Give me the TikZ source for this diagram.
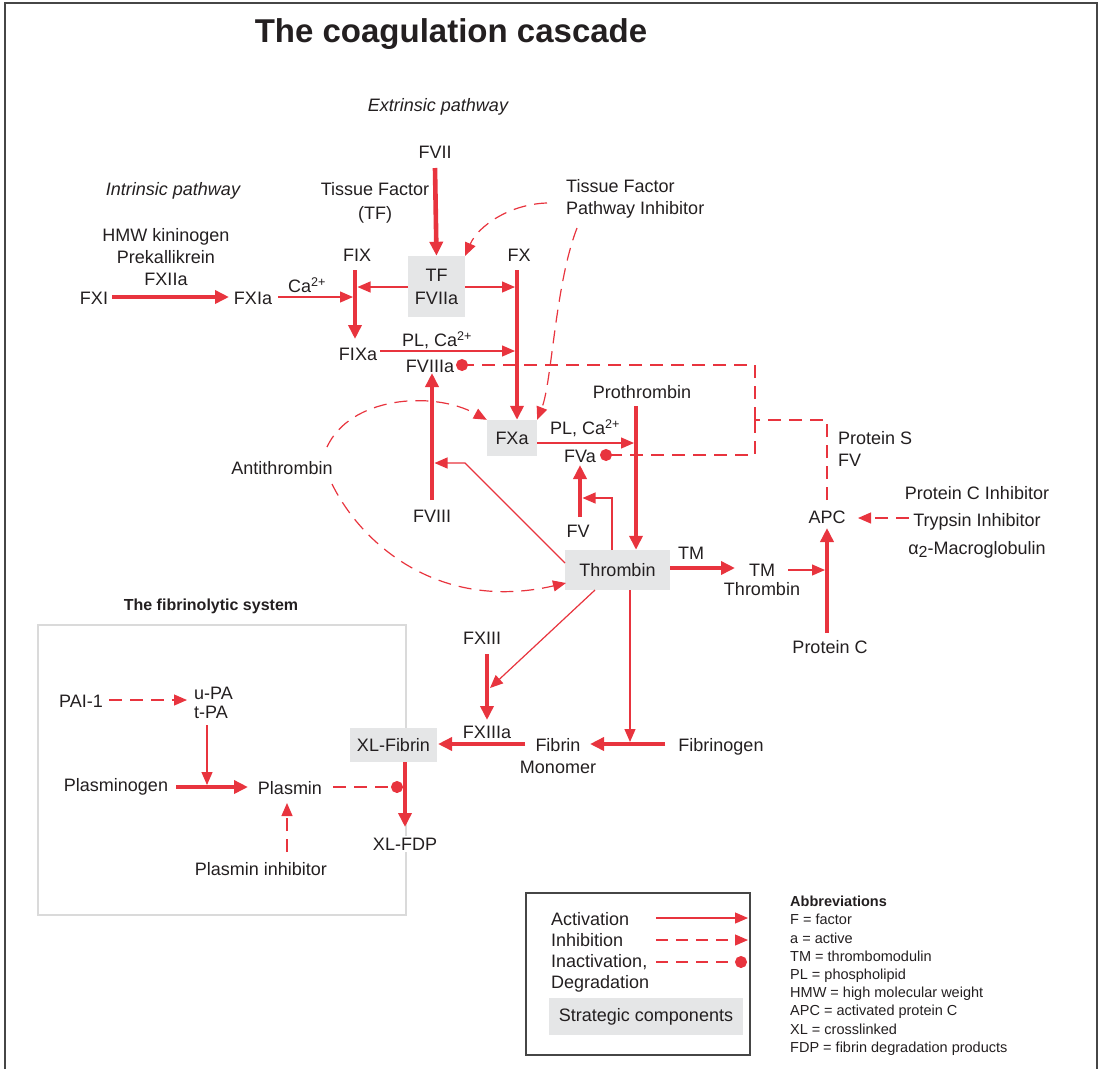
\documentclass[tikz,border=0pt]{standalone}
\usepackage{fontspec}
\setmainfont{Liberation Sans}
\usetikzlibrary{arrows.meta}
\definecolor{cred}{RGB}{232,52,62}
\definecolor{ctxt}{RGB}{35,31,32}
\definecolor{cbox}{RGB}{229,230,231}
\definecolor{cframe}{RGB}{70,70,70}
\definecolor{clight}{RGB}{218,218,218}
\begin{document}
\begin{tikzpicture}[x=1pt,y=-1pt,
 lbl/.style={text=ctxt,font=\fontsize{18}{22}\selectfont,inner sep=0pt,align=center},
 sbox/.style={fill=cbox,text=ctxt,font=\fontsize{18}{23}\selectfont,inner sep=0pt,align=center},
 thk/.style={draw=cred,line width=4.6pt,-{Triangle[length=14pt,width=13pt]}},
 thn/.style={draw=cred,line width=1.2pt,-{Triangle[length=13pt,width=11pt]}},
 thnl/.style={draw=cred,line width=1.2pt},
 dsh/.style={draw=cred,line width=1.2pt,dash pattern=on 13pt off 8pt},
 dsha/.style={dsh,-{Triangle[length=13pt,width=11pt]}},
 dshd/.style={dsh,-{Circle[length=12pt]}},
 small/.style={text=ctxt,font=\fontsize{14.5}{18.2}\selectfont,inner sep=0pt,align=left}
]
\useasboundingbox (0,0) rectangle (1100,1069);
% frame
\draw[cframe,line width=1.5pt] (5,1069) -- (5,3) -- (1097,3) -- (1097,1069);
% fibrinolytic system frame (drawn first, covered by boxes)
\draw[clight,line width=1.5pt] (38,625) rectangle (406,915);

% title and headings
\node[text=ctxt,font=\fontsize{33}{36}\selectfont\bfseries,inner sep=0pt] (title) at (451,34) {The coagulation cascade};
\node[lbl,font=\fontsize{18}{22}\selectfont\itshape] (extr) at (438,107) {Extrinsic pathway};
\node[lbl,font=\fontsize{18}{22}\selectfont\itshape] (intr) at (173,191) {Intrinsic pathway};

% labels
\node[lbl] (fvii) at (435,152) {FVII};
\node[lbl,font=\fontsize{18}{24}\selectfont] (tf) at (375,203) {Tissue Factor\\(TF)};
\node[lbl,align=left,anchor=west] (tfpi) at (566,199) {Tissue Factor\\Pathway Inhibitor};
\node[lbl] (hmw) at (166,257) {HMW kininogen\\Prekallikrein\\FXIIa};
\node[lbl] (fxi) at (94,298) {FXI};
\node[lbl] (fxia) at (253,298) {FXIa};
\node[lbl] (ca1) at (307,285) {Ca\textsuperscript{2+}};
\node[lbl] (fix) at (357,255) {FIX};
\node[lbl] (fixa) at (358,354) {FIXa};
\node[sbox,minimum width=57pt,minimum height=61pt] (tfbox) at (436.5,286.5) {TF\\FVIIa};
\node[lbl] (fx) at (519,255) {FX};
\node[lbl] (plca1) at (437,340) {PL, Ca\textsuperscript{2+}};
\node[lbl] (fviiia) at (430,366) {FVIIIa};
\node[sbox,minimum width=50pt,minimum height=36pt] (fxabox) at (512,438) {FXa};
\node[lbl] (plca2) at (585,428) {PL, Ca\textsuperscript{2+}};
\node[lbl] (fva) at (580,456) {FVa};
\node[lbl] (prothr) at (642,392) {Prothrombin};
\node[lbl] (fv) at (578,531) {FV};
\node[lbl] (fviii) at (432,516) {FVIII};
\node[lbl] (antithr) at (282,468) {Antithrombin};
\node[sbox,minimum width=105pt,minimum height=40pt] (thromb) at (617.5,570) {Thrombin};
\node[lbl] (tm) at (691,553) {TM};
\node[lbl,font=\fontsize{18}{19}\selectfont] (tmthr) at (762,580) {TM\\Thrombin};
\node[lbl] (apc) at (827,517) {APC};
\node[lbl,align=left,anchor=west] (protS) at (838,449) {Protein S\\FV};
\node[lbl,font=\fontsize{18}{27.5}\selectfont] (pcinh) at (977,522) {Protein C Inhibitor\\Trypsin Inhibitor\\α\raisebox{-0.35ex}{\fontsize{16}{16}\selectfont 2}-Macroglobulin};
\node[lbl] (protC) at (830,647) {Protein C};
\node[lbl] (fxiii) at (482,638) {FXIII};
\node[lbl] (fxiiia) at (487,732) {FXIIIa};
\node[lbl] (fibrin) at (558,756) {Fibrin\\Monomer};
\node[lbl] (fibrinogen) at (721,747) {Fibrinogen};
\node[sbox,minimum width=87pt,minimum height=34pt] (xlfib) at (393.5,745) {XL-Fibrin};
\node[lbl,fill=white,inner sep=2pt] (xlfdp) at (405,844) {XL-FDP};

% fibrinolytic system
\node[text=ctxt,font=\fontsize{16}{18}\selectfont\bfseries,inner sep=0pt] (fibtitle) at (211,606) {The fibrinolytic system};
\node[lbl] (plasmin) at (290,788) {Plasmin};
\node[lbl] (plasminogen) at (116,787) {Plasminogen};
\node[lbl,align=left,anchor=west,font=\fontsize{18}{19}\selectfont] (upa) at (194,703) {u-PA\\t-PA};
\node[lbl] (pai) at (81,701) {PAI-1};
\node[lbl] (plinh) at (261,869) {Plasmin inhibitor};

% coordinates
\coordinate (fxiE) at (112,297);
\coordinate (fxiaW) at (229,297);
\coordinate (fxiaE) at (278,297);
\coordinate (fixIn) at (353,297);
\coordinate (fixTop) at (355,270);
\coordinate (fixBot) at (355,339);
\coordinate (fixIn2) at (357.5,287);
\coordinate (fxIn1) at (515,287);
\coordinate (fxTop) at (517,270);
\coordinate (fxIn2) at (515,351);
\coordinate (fixaE) at (380,351);
\coordinate (fviiTop) at (435,168);
\coordinate (fviiiBot) at (432,500);
\coordinate (fviiiTip) at (432,373);
\coordinate (fviiiIn) at (434.5,463);
\coordinate (thrElbow) at (465,463);
\coordinate (thrLeft) at (565,563);
\coordinate (prIn) at (634,443);
\coordinate (prTop) at (636,406);
\coordinate (fvBot) at (580,517);
\coordinate (fvTip) at (580,465);
\coordinate (fvIn) at (582.5,498);
\coordinate (thrTop) at (612,550);
\coordinate (tmTip) at (735,568);
\coordinate (tmthrE) at (788,570);
\coordinate (apcIn) at (825,570);
\coordinate (apcBot) at (827,633);
\coordinate (apcTip) at (827,528);
\coordinate (pciW) at (909,518);
\coordinate (apcE) at (858,518);
\coordinate (apcTop) at (827,500);
\coordinate (jn) at (755,420);
\coordinate (dotA) at (456,365);
\coordinate (dotB) at (600,455);
\coordinate (at1) at (327,447);
\coordinate (at2) at (332,484);
\coordinate (thrW) at (566,583);
\coordinate (tfpi1) at (547,203);
\coordinate (tfpi2) at (577,228);
\coordinate (thrB1) at (630,590);
\coordinate (fgIn) at (630,742);
\coordinate (fgW) at (665,744);
\coordinate (fibE) at (590,744);
\coordinate (thrB2) at (595,590);
\coordinate (fxiiiIn) at (490,688);
\coordinate (fxiiiTop) at (487,654);
\coordinate (fxiiiTip) at (487,720);
\coordinate (fxiiiaE) at (525,744);
\coordinate (xlfE) at (438,744);
\coordinate (xlfB) at (405,762);
\coordinate (xlfdpT) at (405,827);
\coordinate (plasE) at (333,787);
\coordinate (plasDot) at (403,787);
\coordinate (pgE) at (176,787);
\coordinate (plasW) at (248,787);
\coordinate (tpaB) at (207,725);
\coordinate (pgIn) at (207,785);
\coordinate (paiE) at (109,700);
\coordinate (upaW) at (187,700);
\coordinate (pliT) at (287,852);
\coordinate (plasB) at (287,803);

% thin connectors
\draw[thn] (fxiaE) -- (fixIn);
\draw[thn] (tfbox.west |- fixIn2) -- (fixIn2);
\draw[thn] (tfbox.east |- fxIn1) -- (fxIn1);
\draw[thn] (fixaE) -- (fxIn2);
\draw[thn] (thrLeft) -- (thrElbow) -- (fviiiIn);
\draw[thn] (fxabox.east |- prIn) -- (prIn);
\draw[thn] (thrTop) |- (fvIn);
\draw[thn] (tmthrE) -- (apcIn);
\draw[thn] (thrB1) -- (fgIn);
\draw[thn] (thrB2) -- (fxiiiIn);
\draw[thn] (tpaB) -- (pgIn);

% dashed connectors
\draw[dsha] (pciW) -- (apcE);
\draw[dsh] (apcTop) |- (jn);
\draw[dshd] (jn) |- (dotA);
\draw[dshd] (jn) |- (dotB);
\draw[dsha] (at1) .. controls (350,397) and (432,390) .. (fxabox.north west);
\draw[dsha] (at2) .. controls (362,545) and (440,612) .. (thrW);
\draw[dsha] (tfpi1) .. controls (510,204) and (478,226) .. (tfbox.north east);
\draw[dsha] (tfpi2) .. controls (555,285) and (552,382) .. (fxabox.north east);
\draw[dshd] (plasE) -- (plasDot);
\draw[dsha] (paiE) -- (upaW);
\draw[dsha] (pliT) -- (plasB);

% thick connectors
\draw[thk] (fxiE) -- (fxiaW);
\draw[thk] (fixTop) -- (fixBot);
\draw[thk] (fviiTop) -- (tfbox.north);
\draw[thk] (fxTop) -- (fxabox.north -| fxTop);
\draw[thk] (fviiiBot) -- (fviiiTip);
\draw[thk] (prTop) -- (thromb.north -| prTop);
\draw[thk] (fvBot) -- (fvTip);
\draw[thk] (thromb.east |- tmTip) -- (tmTip);
\draw[thk] (apcBot) -- (apcTip);
\draw[thk] (fgW) -- (fibE);
\draw[thk] (fxiiiTop) -- (fxiiiTip);
\draw[thk] (fxiiiaE) -- (xlfE);
\draw[thk] (xlfB) -- (xlfdpT);
\draw[thk] (pgE) -- (plasW);

% legend
\draw[cframe,line width=1.2pt] (526,893) rectangle (750,1055);
\node[lbl,align=left,anchor=north west,font=\fontsize{18}{21}\selectfont] (legtext) at (551,912) {Activation\\Inhibition\\Inactivation,\\Degradation};
\node[sbox,minimum width=194pt,minimum height=37pt] (strat) at (646,1016.5) {Strategic components};
\coordinate (la1) at (656,918);
\coordinate (la2) at (748,918);
\coordinate (lb1) at (656,940);
\coordinate (lb2) at (748,940);
\coordinate (lc1) at (656,962);
\coordinate (lc2) at (747,962);
\draw[thn] (la1) -- (la2);
\draw[dsha,dash pattern=on 12pt off 8pt] (lb1) -- (lb2);
\draw[dshd,dash pattern=on 12pt off 8pt] (lc1) -- (lc2);

\node[small,anchor=north west] (abbr) at (790,896) {\textbf{Abbreviations}\\F = factor\\a = active\\TM = thrombomodulin\\PL = phospholipid\\HMW = high molecular weight\\APC = activated protein C\\XL = crosslinked\\FDP = fibrin degradation products};
\end{tikzpicture}
\end{document}
